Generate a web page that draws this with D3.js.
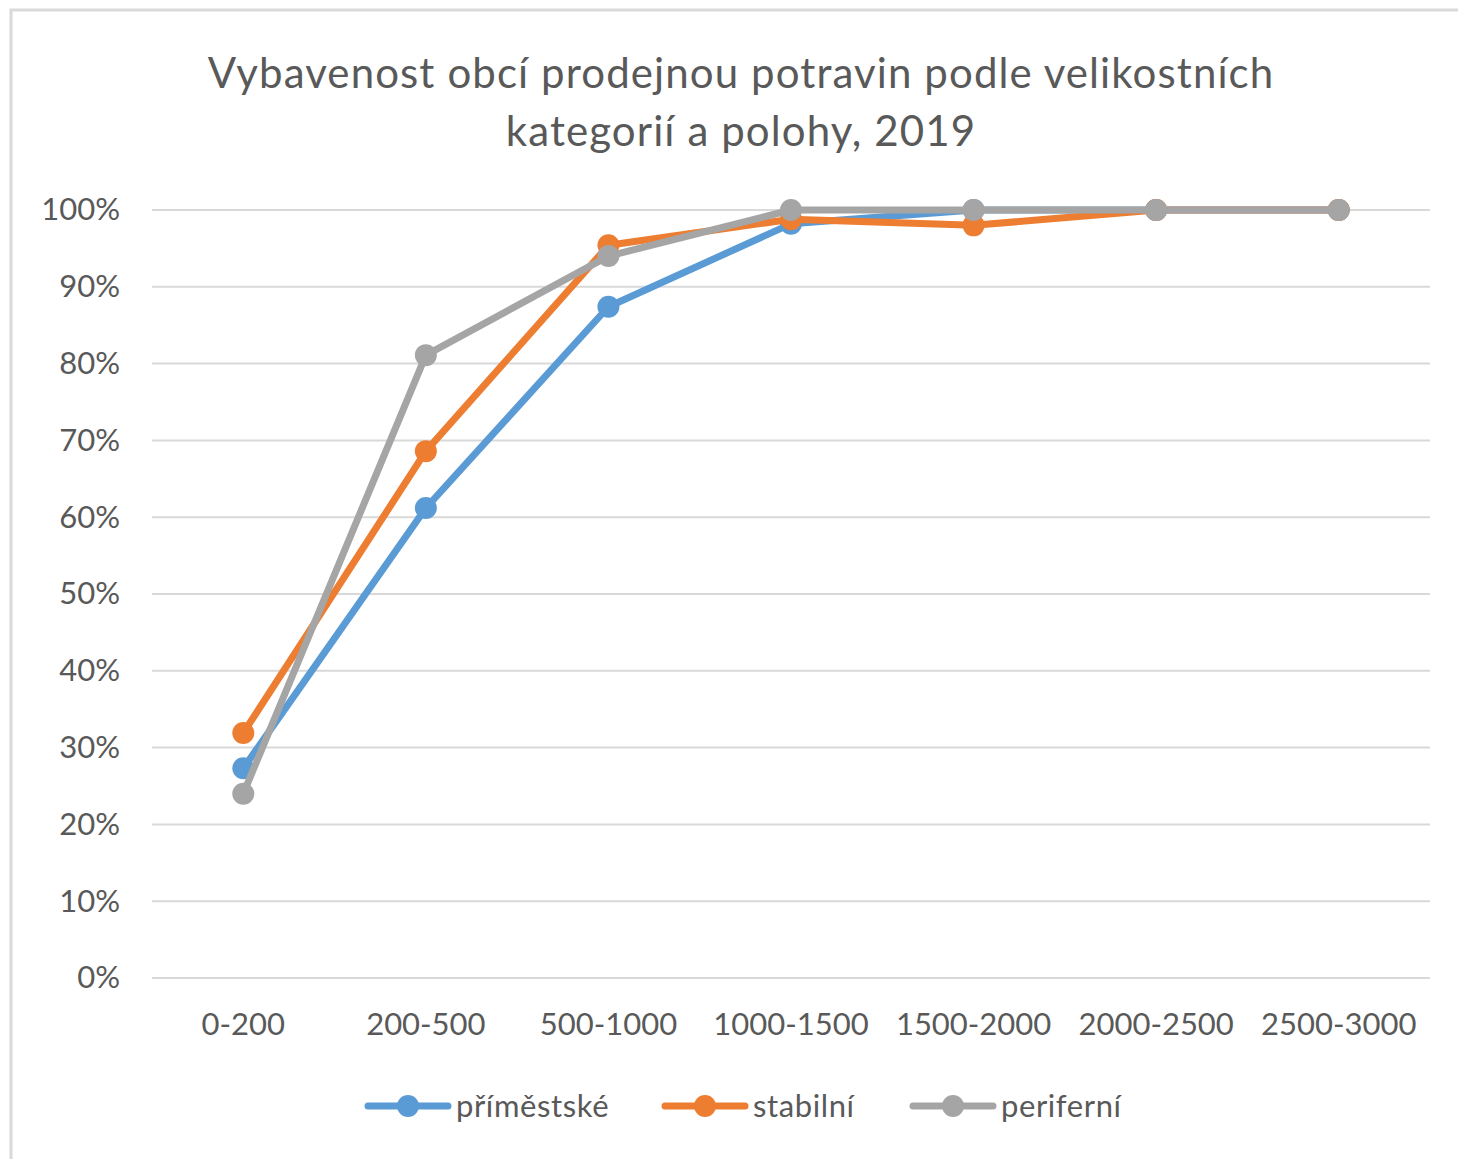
<!DOCTYPE html>
<html>
<head>
<meta charset="utf-8">
<script src="https://cdn.jsdelivr.net/npm/d3@7"></script>
<style>
  body { margin: 0; background: #fff; }
  text { font-family: Lato, "Open Sans", sans-serif; fill: #595959; }
</style>
</head>
<body>
<div id="chart"></div>
<script>
const categories = ["0-200", "200-500", "500-1000", "1000-1500", "1500-2000", "2000-2500", "2500-3000"];
const seriesNames = ["příměstské", "stabilní", "periferní"];
const seriesColors = ["#5B9BD5", "#ED7D31", "#A5A5A5"];
const primestske = [0.273, 0.612, 0.874, 0.982, 1.0, 1.0, 1.0];
const stabilni = [0.319, 0.686, 0.954, 0.988, 0.980, 1.0, 1.0];
const periferni = [0.240, 0.811, 0.940, 1.0, 1.0, 1.0, 1.0];
const yTicks = [0, 0.1, 0.2, 0.3, 0.4, 0.5, 0.6, 0.7, 0.8, 0.9, 1.0];
const titleLines = ["Vybavenost obcí prodejnou potravin podle velikostních", "kategorií a polohy, 2019"];

const series = [primestske, stabilni, periferni].map((vals, i) => ({
    name: seriesNames[i], color: seriesColors[i], values: vals
}));

const W = 1458, H = 1159;
const margin = { top: 210, right: 28, bottom: 181, left: 152 };
const width = W - margin.left - margin.right;
const height = H - margin.top - margin.bottom;

const svgRoot = d3.select("#chart").append("svg")
    .attr("width", W).attr("height", H);

// chart border
svgRoot.append("rect")
    .attr("x", 11).attr("y", 10)
    .attr("width", W + 20).attr("height", H + 20)
    .attr("fill", "#fff").attr("stroke", "#d9d9d9").attr("stroke-width", 3);

// title
svgRoot.append("g").selectAll("text")
    .data(titleLines).enter().append("text")
    .attr("x", 741).attr("y", (d, i) => 88 + i * 58)
    .attr("text-anchor", "middle")
    .attr("font-size", 42)
    .style("letter-spacing", "1.1px")
    .text(d => d);

const svg = svgRoot.append("g")
    .attr("transform", `translate(${margin.left}, ${margin.top})`);

const x = d3.scaleBand().domain(categories).range([0, width]);
const y = d3.scaleLinear().domain([0, 1]).range([height, 0]);

// gridlines
svg.append("g").selectAll("line")
    .data(yTicks).enter().append("line")
    .attr("x1", 0).attr("x2", width)
    .attr("y1", d => y(d)).attr("y2", d => y(d))
    .attr("stroke", "#d9d9d9").attr("stroke-width", 2);

// y axis
const yAxis = svg.append("g")
    .call(d3.axisLeft(y).tickValues(yTicks).tickFormat(d3.format(".0%")).tickSize(0).tickPadding(32));
yAxis.select(".domain").remove();
yAxis.selectAll("text").attr("font-size", 31).attr("fill", "#595959")
    .style("font-family", "Lato, sans-serif");

// x axis
const xAxis = svg.append("g")
    .attr("transform", `translate(0, ${height})`)
    .call(d3.axisBottom(x).tickSize(0).tickPadding(35));
xAxis.select(".domain").remove();
xAxis.selectAll("text").attr("font-size", 31).attr("fill", "#595959")
    .style("font-family", "Lato, sans-serif");

const line = d3.line()
    .x((d, i) => x(categories[i]) + x.bandwidth() / 2)
    .y(d => y(d));

series.forEach(s => {
    svg.append("path")
        .datum(s.values)
        .attr("fill", "none")
        .attr("stroke", s.color)
        .attr("stroke-width", 7)
        .attr("stroke-linejoin", "round")
        .attr("d", line);
    svg.append("g").selectAll("circle")
        .data(s.values).enter().append("circle")
        .attr("cx", (d, i) => x(categories[i]) + x.bandwidth() / 2)
        .attr("cy", d => y(d))
        .attr("r", 11)
        .attr("fill", s.color);
});

// legend
const legendX = [368, 665, 913];
const legend = svgRoot.append("g").selectAll("g")
    .data(series).enter().append("g")
    .attr("transform", (d, i) => `translate(${legendX[i]}, 1106)`);
legend.append("line")
    .attr("x1", 0).attr("x2", 80)
    .attr("stroke", d => d.color).attr("stroke-width", 7).attr("stroke-linecap", "round");
legend.append("circle")
    .attr("cx", 40).attr("r", 11).attr("fill", d => d.color);
legend.append("text")
    .attr("x", 88).attr("y", 11)
    .attr("font-size", 31)
    .style("letter-spacing", "0.6px")
    .text(d => d.name);
</script>
</body>
</html>
